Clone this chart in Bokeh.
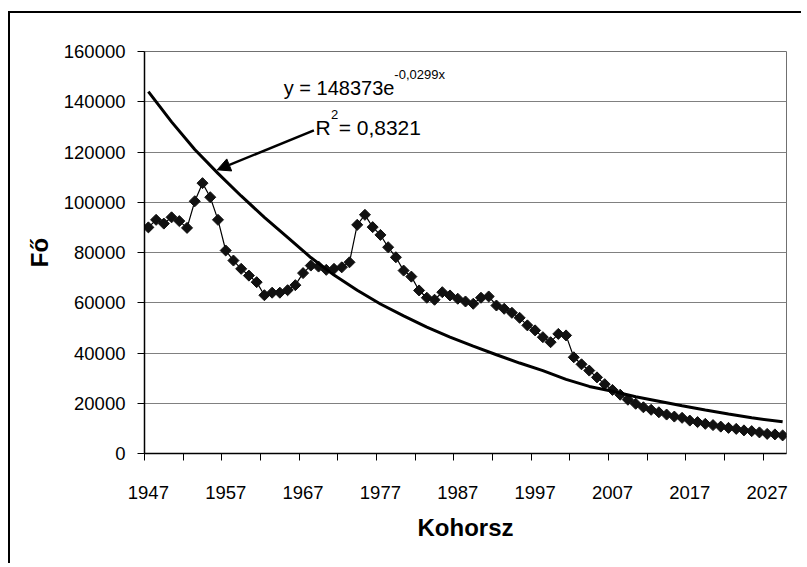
from math import pi
from bokeh.plotting import figure
from bokeh.models import Range1d, FixedTicker, Label, Arrow, NormalHead, NumeralTickFormatter
from bokeh.embed import file_html
from bokeh.resources import INLINE

# ---- data ----
years = list(range(1947, 2030))
cohort = [
    90000, 93000, 91500, 94000, 92500, 89800, 100400, 107600, 102000, 93000,
    80800, 76800, 73500, 70800, 68200, 63000, 64000, 64000, 65000, 67000,
    71800, 74800, 74400, 73100, 73500, 74100, 76100, 91000, 95000, 90100,
    87000, 82100, 78100, 72800, 70400, 64900, 62000, 61200, 64200, 62900,
    61600, 60500, 59600, 62000, 62500, 58900, 57600, 56000, 54000, 51000,
    49000, 46300, 44300, 47600, 47000, 38300, 35500, 33000, 30300, 27600,
    25300, 23400, 21400, 19800, 18400, 17400, 16400, 15500, 14700, 14200,
    13100, 12500, 11800, 11300, 10700, 10200, 9800, 9200, 8900, 8400,
    7800, 7600, 7200,
]
trend_years = [1947, 1950, 1953, 1956, 1959, 1962, 1965, 1968, 1971, 1974,
               1977, 1980, 1983, 1986, 1989, 1992, 1995, 1998, 2001, 2004,
               2007, 2010, 2013, 2016, 2019, 2022, 2025, 2029]
trend_vals = [144000, 132000, 121000, 111500, 102500, 94000, 86000, 78000,
              71000, 65000, 59500, 54800, 50300, 46300, 42700, 39300, 36000,
              33000, 29500, 26700, 24800, 22600, 20800, 19000, 17300, 15700,
              14200, 12600]

x_label_years = list(range(1947, 2028, 10))
x_tick_marks = [1946.5 + 5 * k for k in range(17)]
y_ticks = list(range(0, 160001, 20000))

equation_main = "y = 148373e"
equation_exp = "-0,0299x"
r2_main = "R"
r2_exp = "2"
r2_rest = "= 0,8321"

TICK_FONT = "Liberation Sans"
TEXT_FONT = "Liberation Sans"

p = figure(
    output_backend="svg", toolbar_location=None,
    frame_width=642, frame_height=402,
    min_border_left=134, min_border_top=38, min_border_right=15, min_border_bottom=110,
    x_range=Range1d(1946.5, 2029.5), y_range=Range1d(0, 160000),
)
p.styles = {"border-left": "2px solid black", "border-top": "2px solid black",
            "margin-top": "11px", "margin-left": "8px"}
p.background_fill_color = "white"
p.border_fill_color = "white"
p.outline_line_color = "#707070"
p.outline_line_width = 1

# grid
p.xgrid.visible = False
p.ygrid.ticker = FixedTicker(ticks=y_ticks[1:-1])
p.ygrid.grid_line_color = "#808080"
p.ygrid.grid_line_width = 1

# x axis
xa = p.xaxis[0]
xa.ticker = FixedTicker(ticks=x_label_years, minor_ticks=x_tick_marks)
xa.major_tick_out = 0
xa.major_tick_in = 0
xa.minor_tick_out = 7
xa.minor_tick_in = 0
xa.minor_tick_line_color = "black"
xa.axis_line_color = "black"
xa.axis_line_width = 1.5
xa.major_label_standoff = 25
xa.major_label_text_font = TICK_FONT
xa.major_label_text_font_size = "18.5px"
xa.major_label_text_color = "black"
xa.axis_label = "Kohorsz"
xa.axis_label_text_font = TEXT_FONT
xa.axis_label_text_font_style = "bold"
xa.axis_label_text_font_size = "24px"
xa.axis_label_text_color = "black"
xa.axis_label_standoff = 12

# y axis
ya = p.yaxis[0]
ya.ticker = FixedTicker(ticks=y_ticks)
ya.formatter = NumeralTickFormatter(format="0")
ya.major_tick_out = 7
ya.major_tick_in = 0
ya.minor_tick_out = 0
ya.minor_tick_in = 0
ya.major_tick_line_color = "black"
ya.axis_line_color = "black"
ya.axis_line_width = 1.5
ya.major_label_standoff = 12
ya.major_label_text_font = TICK_FONT
ya.major_label_text_font_size = "18.5px"
ya.major_label_text_color = "black"
ya.axis_label = "Fő"
ya.axis_label_text_font = TEXT_FONT
ya.axis_label_text_font_style = "bold"
ya.axis_label_text_font_size = "24px"
ya.axis_label_text_color = "black"
ya.axis_label_standoff = 8

# series
p.line(years, cohort, line_color="black", line_width=1.2)
p.scatter(years, cohort, marker="square", angle=pi / 4, size=7.8,
          fill_color="#111111", line_color="#111111")
p.line(trend_years, trend_vals, line_color="black", line_width=3)

# annotations
p.add_layout(Label(x=1964.5, y=145300, text=equation_main, text_font=TEXT_FONT,
                   text_font_size="20px", text_color="black",
                   text_baseline="alphabetic", text_align="left"))
p.add_layout(Label(x=1978.8, y=150800, text=equation_exp, text_font=TEXT_FONT,
                   text_font_size="13px", text_color="black",
                   text_baseline="alphabetic", text_align="left"))
p.add_layout(Label(x=1968.6, y=129900, text=r2_main, text_font=TEXT_FONT,
                   text_font_size="21px", text_color="black",
                   text_baseline="alphabetic", text_align="left"))
p.add_layout(Label(x=1970.6, y=134800, text=r2_exp, text_font=TEXT_FONT,
                   text_font_size="13px", text_color="black",
                   text_baseline="alphabetic", text_align="left"))
p.add_layout(Label(x=1971.6, y=129900, text=r2_rest, text_font=TEXT_FONT,
                   text_font_size="21px", text_color="black",
                   text_baseline="alphabetic", text_align="left"))
p.add_layout(Arrow(x_start=1968.4, y_start=128600, x_end=1955.9, y_end=112900,
                   line_color="black", line_width=2.5,
                   end=NormalHead(size=13, fill_color="black", line_color="black")))

open("out.html", "w").write(file_html(p, INLINE))
